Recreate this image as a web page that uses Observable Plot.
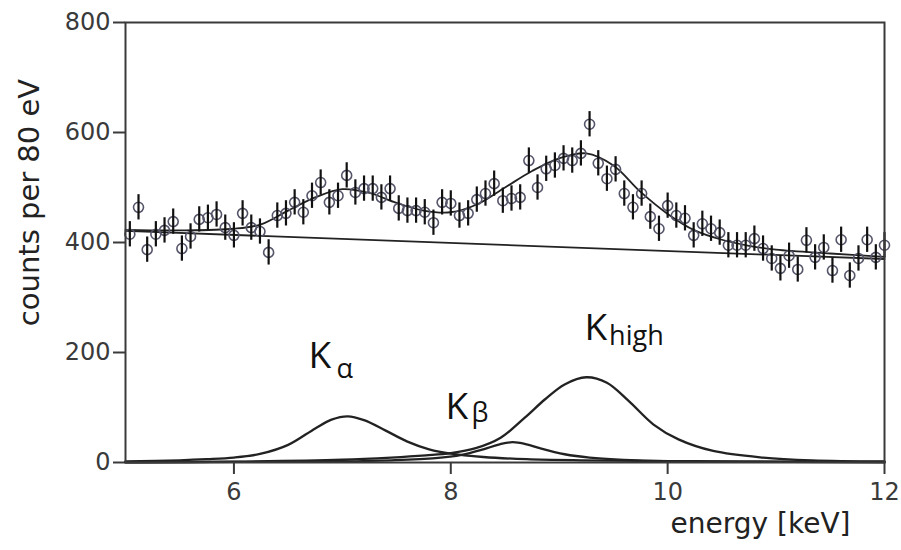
<!DOCTYPE html>
<html>
<head>
<meta charset="utf-8">
<script src="https://cdn.jsdelivr.net/npm/d3@7"></script>
<script src="https://cdn.jsdelivr.net/npm/@observablehq/plot@0.6"></script>
<style>
  body { margin: 0; background: #fff; }
</style>
</head>
<body>
<div id="chart"></div>
<script>
// ---- data ----
const energy = [
  5.04, 5.12, 5.20, 5.28, 5.36, 5.44, 5.52, 5.60, 5.68, 5.76, 5.84, 5.92,
  6.00, 6.08, 6.16, 6.24, 6.32, 6.40, 6.48, 6.56, 6.64, 6.72, 6.80, 6.88, 6.96,
  7.04, 7.12, 7.20, 7.28, 7.36, 7.44, 7.52, 7.60, 7.68, 7.76, 7.84, 7.92,
  8.00, 8.08, 8.16, 8.24, 8.32, 8.40, 8.48, 8.56, 8.64, 8.72, 8.80, 8.88, 8.96,
  9.04, 9.12, 9.20, 9.28, 9.36, 9.44, 9.52, 9.60, 9.68, 9.76, 9.84, 9.92,
  10.00, 10.08, 10.16, 10.24, 10.32, 10.40, 10.48, 10.56, 10.64, 10.72, 10.80, 10.88, 10.96,
  11.04, 11.12, 11.20, 11.28, 11.36, 11.44, 11.52, 11.60, 11.68, 11.76, 11.84, 11.92, 12.00
];
const counts = [
  415, 464, 387, 415, 422, 438, 389, 411, 442, 445, 451, 427,
  413, 453, 427, 420, 382, 449, 453, 473, 455, 485, 509, 473, 485,
  522, 491, 498, 498, 482, 498, 462, 458, 458, 455, 436, 473,
  471, 449, 453, 478, 489, 507, 476, 480, 482, 549, 500, 534, 540,
  553, 549, 562, 615, 544, 516, 533, 489, 464, 489, 447, 425,
  467, 449, 444, 413, 434, 425, 418, 395, 395, 395, 407, 389, 371,
  353, 376, 351, 404, 373, 391, 349, 405, 340, 371, 405, 373, 395
];
const errorBar = 23; // half-length of the error bars, in counts

const bgEnergy = [5, 12];
const bgCounts = [421, 370];

const fitEnergy = [5.0, 5.5, 6.0, 6.25, 6.5, 6.75, 7.0, 7.25, 7.5, 7.75, 8.0, 8.25, 8.5,
                   8.75, 9.0, 9.25, 9.5, 9.75, 10.0, 10.25, 10.5, 10.75, 11.0, 11.5, 12.0];
const fitCounts = [423, 422, 425, 433, 458, 482, 497, 490, 472, 458, 455, 470, 500,
                   530, 553, 562, 540, 492, 452, 422, 405, 394, 387, 380, 374];

const kaEnergy = [5.0, 5.5, 5.75, 6.0, 6.25, 6.5, 6.75, 6.9, 7.05, 7.2, 7.4, 7.6, 7.8, 8.0, 8.3, 8.7, 9.2, 10, 11, 12];
const kaCounts = [2, 4, 6, 9, 16, 32, 62, 78, 84, 77, 58, 38, 24, 16, 10, 6, 4, 2.5, 1.5, 1];

const khEnergy = [5, 6, 7, 7.45, 7.77, 8.0, 8.23, 8.46, 8.68, 8.87, 9.05, 9.25, 9.44, 9.64, 9.87, 10.1, 10.42, 10.88, 11.33, 12];
const khCounts = [0.5, 1.5, 5, 9, 13, 17, 26, 45, 81, 115, 142, 155, 145, 112, 69, 42, 21, 9, 4, 2];

const kbEnergy = [5, 6, 7, 7.45, 7.86, 8.1, 8.3, 8.45, 8.57, 8.7, 8.82, 9.05, 9.28, 9.73, 10.42, 12];
const kbCounts = [0.5, 1, 2, 4, 8, 14, 24, 33, 37, 33, 26, 15, 9, 4, 2, 0.5];

const xTicks = [6, 8, 10, 12];
const yTicks = [0, 200, 400, 600, 800];
const xLabel = "energy [keV]";
const yLabel = "counts per 80 eV";
const peakMain = ["K", "K", "K"];
const peakSub = ["α", "β", "high"];

// ---- tables ----
const points = energy.map((e, i) => ({energy: e, counts: counts[i]}));
const toRows = (xs, ys) => xs.map((e, i) => ({energy: e, counts: ys[i]}));
const bg = toRows(bgEnergy, bgCounts);
const fit = toRows(fitEnergy, fitCounts);
const ka = toRows(kaEnergy, kaCounts);
const kh = toRows(khEnergy, khCounts);
const kb = toRows(kbEnergy, kbCounts);

const lineStyle = {x: "energy", y: "counts", stroke: "#222", strokeWidth: 2.3, curve: "catmull-rom"};
const annFont = "'Open Sans', 'Noto Sans', sans-serif";

const chart = Plot.plot({
  width: 901,
  height: 550,
  marginLeft: 125,
  marginRight: 17,
  marginTop: 22,
  marginBottom: 88,
  x: {domain: [5, 12]},
  y: {domain: [0, 800]},
  style: {fontFamily: "'DejaVu Sans', sans-serif", background: "#fff", overflow: "visible"},
  marks: [
    Plot.axisX({ticks: xTicks, tickFormat: d => String(d), tickSize: 12, tickPadding: 8, fontSize: 24, label: null, color: "#3a3a3a", strokeWidth: 2}),
    Plot.axisY({ticks: yTicks, tickFormat: d => String(d), tickSize: 12, tickPadding: 3, fontSize: 24, label: null, color: "#3a3a3a", strokeWidth: 2}),
    Plot.line(ka, lineStyle),
    Plot.line(kb, lineStyle),
    Plot.line(kh, lineStyle),
    Plot.line(bg, {...lineStyle, curve: "linear", strokeWidth: 1.8}),
    Plot.line(fit, {...lineStyle, strokeWidth: 1.8}),
    Plot.dot(points, {x: "energy", y: "counts", r: 5, stroke: "#55556a", strokeWidth: 1.6, fill: "none"}),
    Plot.ruleX(points, {x: "energy", y1: d => d.counts - errorBar, y2: d => d.counts + errorBar, stroke: "#111", strokeWidth: 2.2}),
    Plot.frame({stroke: "#3a3a3a", strokeWidth: 2}),
    // axis titles
    Plot.text([xLabel], {frameAnchor: "bottom-right", textAnchor: "end", lineAnchor: "bottom", dx: -34, dy: 70, fontSize: 28, fill: "#222"}),
    Plot.text([yLabel], {frameAnchor: "left", rotate: -90, textAnchor: "middle", dx: -96, dy: -40, fontSize: 29, fill: "#222"}),
    // peak annotations
    Plot.text([peakMain[0]], {x: 6.688, y: 171, textAnchor: "start", lineAnchor: "bottom", fontSize: 37, fontFamily: annFont, fill: "#111"}),
    Plot.text([peakSub[0]], {x: 6.945, y: 153, textAnchor: "start", lineAnchor: "bottom", fontSize: 27, fontFamily: annFont, fill: "#111"}),
    Plot.text([peakMain[1]], {x: 7.951, y: 80, textAnchor: "start", lineAnchor: "bottom", fontSize: 37, fontFamily: annFont, fill: "#111"}),
    Plot.text([peakSub[1]], {x: 8.19, y: 74, textAnchor: "start", lineAnchor: "bottom", fontSize: 27, fontFamily: annFont, fill: "#111"}),
    Plot.text([peakMain[2]], {x: 9.233, y: 222, textAnchor: "start", lineAnchor: "bottom", fontSize: 37, fontFamily: annFont, fill: "#111"}),
    Plot.text([peakSub[2]], {x: 9.46, y: 214, textAnchor: "start", lineAnchor: "bottom", fontSize: 27, fontFamily: annFont, fill: "#111"})
  ]
});
document.getElementById("chart").appendChild(chart);
</script>
</body>
</html>
